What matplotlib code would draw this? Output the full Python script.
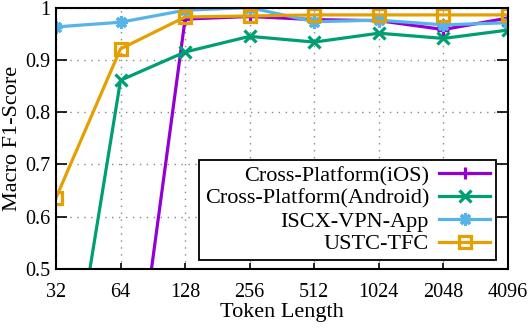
import matplotlib
matplotlib.use("Agg")
import matplotlib.pyplot as plt

plt.rcParams['font.family'] = ['Liberation Serif', 'DejaVu Serif']

# token lengths on the x axis
tokens = [32, 64, 128, 256, 512, 1024, 2048, 4096]
tick_labels = ['32', '64', '128', '256', '512', '1024', '2048', '4096']

# macro F1 per dataset
ios = [0.03, 0.06, 0.978, 0.983, 0.977, 0.975, 0.958, 0.980]
android = [0.10, 0.861, 0.915, 0.945, 0.934, 0.951, 0.941, 0.957]
iscx = [0.963, 0.972, 0.995, 1.0, 0.973, 0.976, 0.967, 0.971]
ustc = [0.636, 0.921, 0.982, 0.984, 0.986, 0.986, 0.986, 0.986]

series = [
    ('Cross-Platform(iOS)', ios, '#9400d3', '+'),
    ('Cross-Platform(Android)', android, '#009e73', 'x'),
    ('ISCX-VPN-App', iscx, '#56b4e9', (8, 2, 0)),
    ('USTC-TFC', ustc, '#e69f00', 's'),
]

fig = plt.figure(figsize=(5.28, 3.30), dpi=100)
ax = fig.add_axes([0.106, 0.185, 0.856, 0.792])

for name, vals, col, mk in series:
    ax.plot(tokens, vals, color=col, lw=2.3, marker=mk, ms=9, mew=2.3,
            mfc='none', mec=col, label=name)

ax.set_xscale('log', base=2)
ax.set_xlim(32, 4096)
ax.set_ylim(0.5, 1.0)
ax.set_xticks(tokens)
ax.set_xticklabels(tick_labels)
ax.minorticks_off()
ax.set_yticks([0.5, 0.6, 0.7, 0.8, 0.9, 1.0])
ax.set_yticklabels(['0.5', '0.6', '0.7', '0.8', '0.9', '1'])

ax.tick_params(axis='both', labelsize=14.5, direction='in', length=8, width=1.2)
ax.tick_params(axis='y', right=True, pad=4)
ax.tick_params(axis='x', top=False, length=4, pad=10)
ax.grid(True, color='#888888', linestyle=(0, (1, 4)), lw=1.0)
for s in ax.spines.values():
    s.set_linewidth(1.5)

ax.set_xlabel('Token Length', fontsize=16, labelpad=1)
ax.set_ylabel('Macro F1-Score', fontsize=16, labelpad=2)

leg = ax.legend(loc='upper right', bbox_to_anchor=(0.973, 0.417),
                markerfirst=False, fontsize=16, fancybox=False,
                edgecolor='black', framealpha=1, borderaxespad=0,
                handlelength=2.3, labelspacing=0.1, borderpad=0.25,
                handletextpad=0.45)
leg.get_frame().set_linewidth(1.3)
for t in leg.get_texts():
    t.set_ha('right')
leg._legend_box.align = 'right'

fig.savefig('out.png', dpi=100)
